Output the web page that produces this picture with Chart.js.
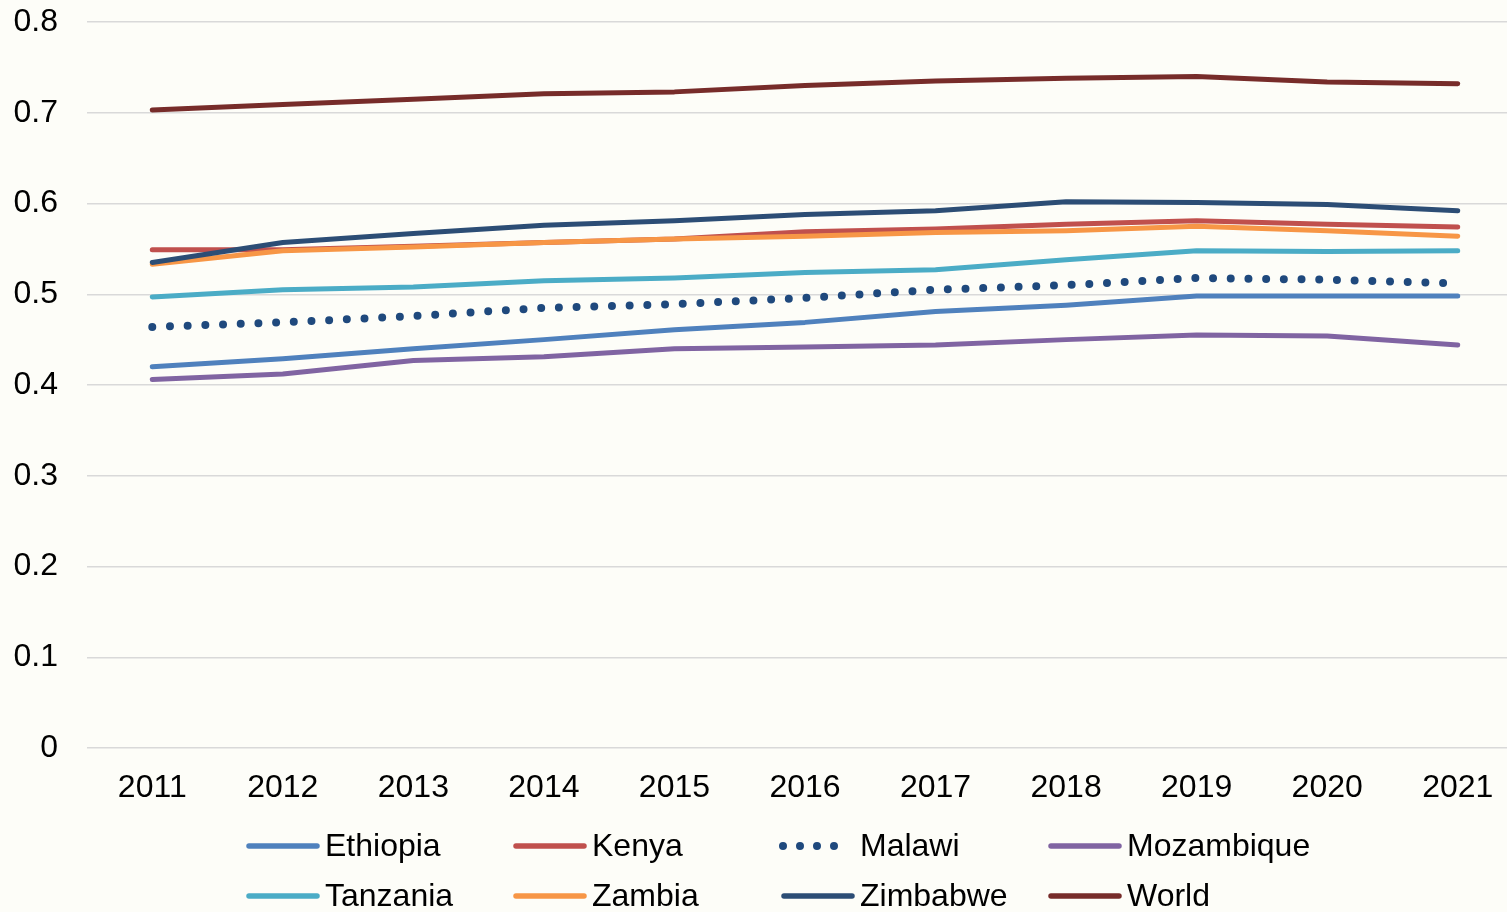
<!DOCTYPE html>
<html>
<head>
<meta charset="utf-8">
<script src="https://cdn.jsdelivr.net/npm/chart.js@4"></script>
<style>
	html, body { margin: 0; padding: 0; background: #fdfdf8; overflow: hidden; }
	/* plot area runs a little past the right edge of the picture, as in the original */
	#wrap { width: 1523px; height: 912px; position: relative; }
</style>
</head>
<body>
<div id="wrap"><canvas id="chart-hdi"></canvas></div>
<script>
// Data
const years = ['2011', '2012', '2013', '2014', '2015', '2016', '2017', '2018', '2019', '2020', '2021'];
const yTicks = [0, 0.1, 0.2, 0.3, 0.4, 0.5, 0.6, 0.7, 0.8];

const ethiopia = [0.420, 0.429, 0.440, 0.450, 0.461, 0.469, 0.481, 0.488, 0.498, 0.498, 0.498];
const kenya = [0.549, 0.549, 0.553, 0.557, 0.561, 0.569, 0.572, 0.577, 0.581, 0.577, 0.574];
const malawi = [0.464, 0.469, 0.476, 0.485, 0.489, 0.496, 0.505, 0.510, 0.518, 0.516, 0.512];
const mozambique = [0.406, 0.412, 0.427, 0.431, 0.440, 0.442, 0.444, 0.450, 0.455, 0.454, 0.444];
const tanzania = [0.497, 0.505, 0.508, 0.515, 0.518, 0.524, 0.527, 0.538, 0.548, 0.547, 0.548];
const zambia = [0.533, 0.548, 0.552, 0.557, 0.561, 0.564, 0.568, 0.570, 0.575, 0.570, 0.564];
const zimbabwe = [0.535, 0.557, 0.567, 0.576, 0.581, 0.588, 0.592, 0.602, 0.601, 0.599, 0.592];
const world = [0.703, 0.709, 0.715, 0.721, 0.723, 0.730, 0.735, 0.738, 0.740, 0.734, 0.732];

const FONT = 'Arial, "Liberation Sans", sans-serif';

function line(label, data, color, dotted) {
	return {
		label: label,
		data: data,
		borderColor: color,
		backgroundColor: color,
		borderWidth: dotted ? 8 : 5,
		borderDash: dotted ? [0, 17.7] : [],
		borderCapStyle: 'round',
		borderJoinStyle: 'round',
		pointRadius: 0,
		tension: 0,
		fill: false,
	};
}

const datasets = [
	line('Ethiopia', ethiopia, '#4f81bd'),
	line('Kenya', kenya, '#c0504d'),
	line('Malawi', malawi, '#1f497d', true),
	line('Mozambique', mozambique, '#8064a2'),
	line('Tanzania', tanzania, '#4bacc6'),
	line('Zambia', zambia, '#f79646'),
	line('Zimbabwe', zimbabwe, '#2c4d75'),
	line('World', world, '#772c2a'),
];
// later series on top, like the original
datasets.forEach((d, i) => (d.order = datasets.length - i));

// legend drawn in fixed columns under the axis
const legendGrid = {
	id: 'legendGrid',
	afterDraw(chart) {
		const ctx = chart.ctx;
		const cols = [247, 514, 782, 1049];
		const rows = [846, 896];
		ctx.save();
		ctx.font = '32px ' + FONT;
		ctx.textBaseline = 'middle';
		ctx.fillStyle = '#000';
		chart.data.datasets.forEach((ds, i) => {
			const x = cols[i % 4];
			const y = rows[Math.floor(i / 4)];
			ctx.strokeStyle = ds.borderColor;
			ctx.lineCap = 'round';
			ctx.beginPath();
			if (ds.borderDash.length) {
				// four round dots
				ctx.lineWidth = 8;
				ctx.setLineDash([0, 17]);
				ctx.moveTo(x + 1, y);
				ctx.lineTo(x + 53, y);
			} else {
				ctx.lineWidth = 5.5;
				ctx.setLineDash([]);
				ctx.moveTo(x + 2, y);
				ctx.lineTo(x + 70, y);
			}
			ctx.stroke();
			ctx.fillText(ds.label, x + 78, y + 1);
		});
		ctx.restore();
	},
};

!(function () {
	const ctx = document.getElementById('chart-hdi');

	new Chart(ctx, {
		type: 'line',
		data: {
			labels: years,
			datasets: datasets,
		},
		plugins: [legendGrid],
		options: {
			responsive: true,
			maintainAspectRatio: false,
			animation: false,
			layout: {
				padding: { top: 22, right: 0, bottom: 100, left: 0 },
			},
			scales: {
				x: {
					offset: true,
					grid: { display: false, drawTicks: false },
					border: { display: false },
					ticks: {
						color: '#000',
						font: { family: FONT, size: 32 },
						padding: 21,
						maxRotation: 0,
					},
					afterFit(scale) {
						scale.height = 64;
						scale.paddingLeft = 0;
						scale.paddingRight = 0;
					},
				},
				y: {
					min: 0,
					max: 0.8,
					afterBuildTicks(scale) {
						scale.ticks = yTicks.map((v) => ({ value: v }));
					},
					grid: { color: '#d9d9d9', lineWidth: 1.5, drawTicks: false },
					border: { display: false },
					ticks: {
						color: '#000',
						font: { family: FONT, size: 32 },
						padding: 29,
						callback: (v) => String(Math.round(v * 10) / 10),
					},
					afterFit(scale) {
						scale.width = 87;
						scale.paddingTop = 0;
						scale.paddingBottom = 0;
					},
				},
			},
			plugins: {
				legend: { display: false },
				tooltip: { enabled: false },
			},
		},
	});
})();
</script>
</body>
</html>
